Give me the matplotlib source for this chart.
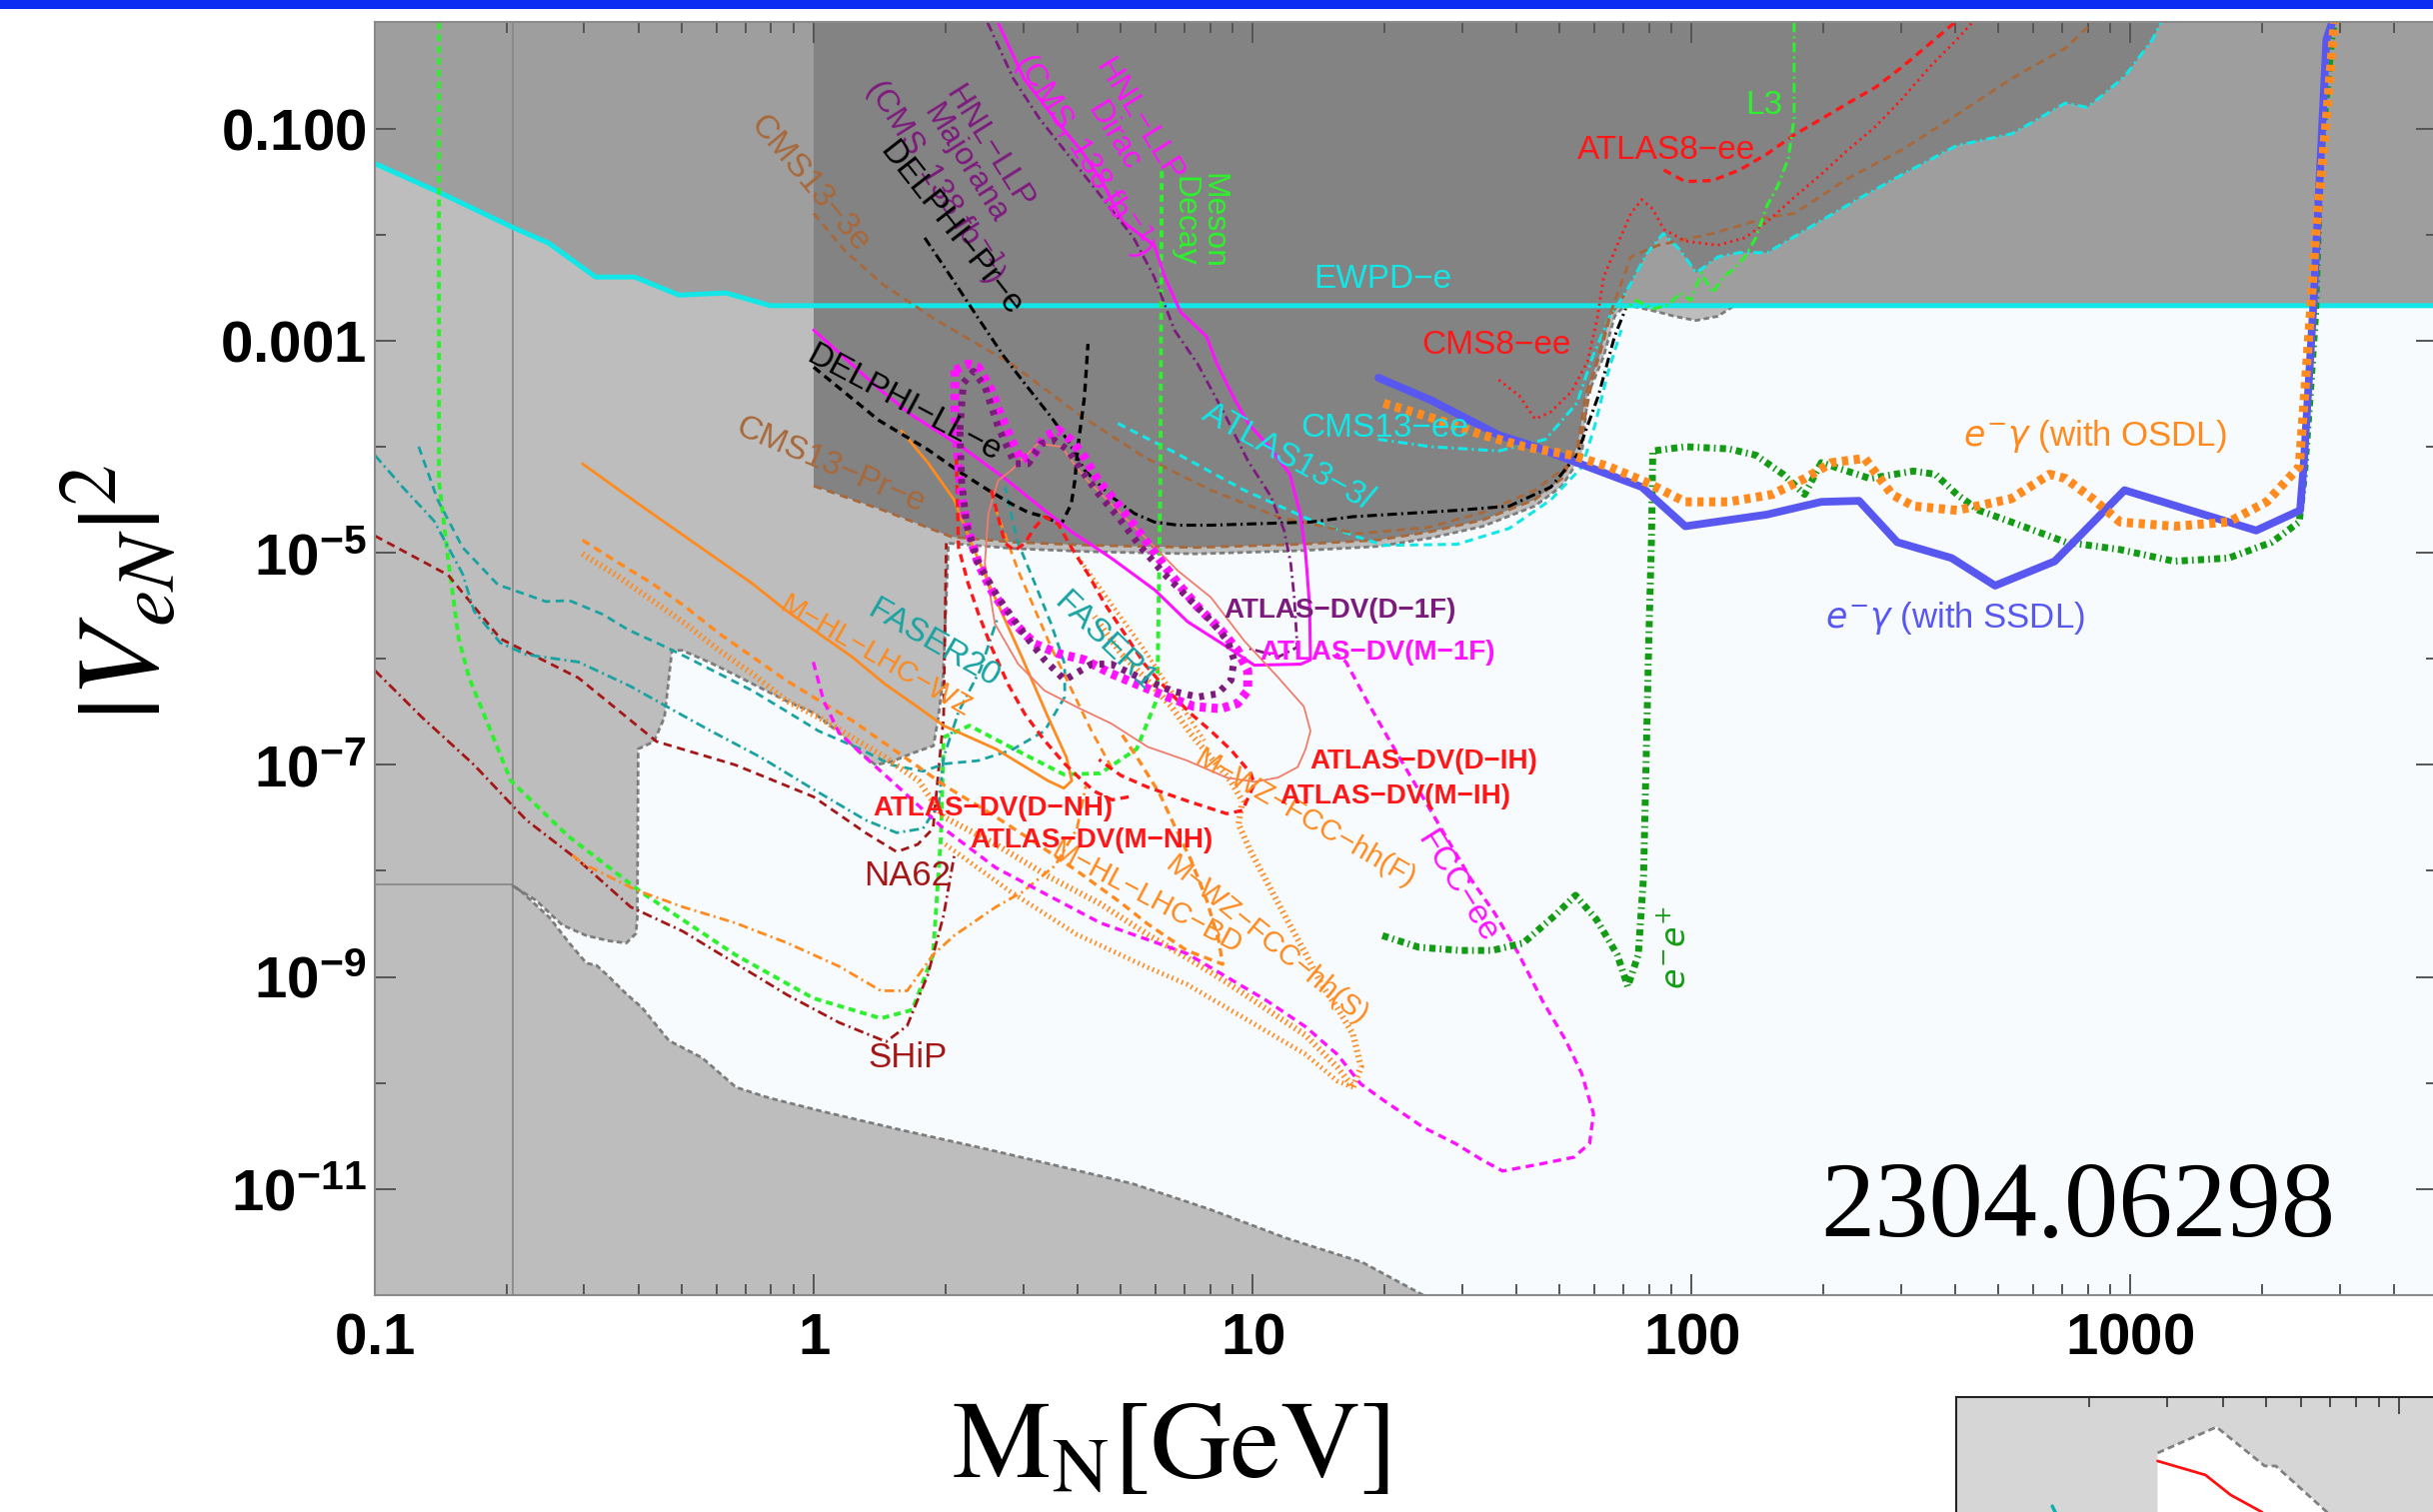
import numpy as np
import matplotlib
matplotlib.use("Agg")
import matplotlib.pyplot as plt
from matplotlib.patches import Rectangle, Polygon
from matplotlib.ticker import FixedLocator, NullLocator, NullFormatter

plt.rcParams["font.family"] = ["Liberation Sans", "DejaVu Sans"]
plt.rcParams["mathtext.fontset"] = "custom"
plt.rcParams["mathtext.rm"] = "Liberation Sans:bold"
plt.rcParams["mathtext.it"] = "Liberation Sans:italic:bold"
plt.rcParams["mathtext.bf"] = "Liberation Sans:bold"
plt.rcParams["lines.scale_dashes"] = False

# all curves: (log10 M_N [GeV], log10 |V_eN|^2)
EWPD_E = [(-1.0, -1.33), (-0.854, -1.60), (-0.687, -1.93), (-0.604, -2.08), (-0.497, -2.40),
          (-0.408, -2.40), (-0.307, -2.57), (-0.20, -2.55), (-0.099, -2.67), (3.70, -2.67)]

LIGHT_REGION = [(-1.0, 0.0), (-1.0, -12.0), (1.389, -12.0),
                (1.25, -11.69), (1.075, -11.46), (0.902, -11.19), (0.727, -10.95), (0.555, -10.78),
                (0.380, -10.61), (0.207, -10.45), (0.032, -10.28), (-0.102, -10.14), (-0.177, -10.04),
                (-0.255, -9.76), (-0.33, -9.60), (-0.391, -9.29), (-0.427, -9.16), (-0.466, -9.0),
                (-0.495, -8.89), (-0.518, -8.87), (-0.557, -8.68), (-0.602, -8.44), (-0.67, -8.18),
                (-0.686, -8.14), (-0.632, -8.28), (-0.573, -8.51), (-0.518, -8.61), (-0.466, -8.66),
                (-0.427, -8.68), (-0.405, -8.59), (-0.402, -8.44), (-0.40, -6.85), (-0.364, -6.78),
                (-0.34, -6.55), (-0.323, -5.92), (-0.30, -5.92), (-0.239, -6.03), (-0.18, -6.15),
                (-0.109, -6.30), (-0.061, -6.40), (0.0, -6.51), (0.059, -6.70), (0.107, -6.89),
                (0.141, -7.00), (0.177, -6.97), (0.225, -6.89), (0.273, -6.82), (0.284, -6.55),
                (0.295, -6.18), (0.302, -5.44), (0.307, -4.91), (0.455, -4.96), (0.634, -4.99),
                (0.870, -5.01), (1.109, -4.98), (1.286, -4.94), (1.407, -4.86), (1.525, -4.75),
                (1.643, -4.56), (1.705, -4.37), (1.75, -4.08), (1.764, -3.51), (1.80, -3.15),
                (1.825, -2.77), (1.85, -2.66), (1.925, -2.73), (1.961, -2.77), (2.01, -2.81),
                (2.06, -2.77), (2.098, -2.67), (2.10, 0.0)]

DARK_REGION = [(0.0, 0.0), (0.0, -4.37), (0.159, -4.6), (0.314, -4.85), (0.455, -4.90), (0.634, -4.93),
               (0.870, -4.95), (1.109, -4.92), (1.286, -4.88), (1.407, -4.80), (1.525, -4.69),
               (1.643, -4.50), (1.705, -4.30), (1.74, -4.0), (1.76, -3.5), (1.79, -3.15), (1.815, -2.77),
               (1.85, -2.55), (1.90, -2.17), (1.936, -1.99), (1.973, -2.14), (2.011, -2.36), (2.061, -2.21),
               (2.109, -2.17), (2.173, -2.17), (2.234, -2.02), (2.295, -1.87), (2.382, -1.66),
               (2.482, -1.43), (2.605, -1.16), (2.73, -1.05), (2.79, -0.91), (2.852, -0.76),
               (2.902, -0.80), (2.939, -0.68), (2.989, -0.50), (3.05, -0.165), (3.07, 0.0)]

BLOCK_EDGE_M = -0.686
BLOCK_EDGE_V = -8.13

MESON_DECAY = [(-0.854, 0.0), (-0.854, -4.32), (-0.833, -5.06), (-0.809, -5.81), (-0.785, -6.18),
               (-0.690, -7.15), (-0.560, -7.67), (-0.393, -8.20), (-0.179, -8.79), (-0.001, -9.20),
               (0.153, -9.39), (0.225, -9.31), (0.272, -8.79), (0.29, -7.67), (0.296, -6.74),
               (0.355, -6.63), (0.475, -6.89), (0.570, -7.09), (0.653, -7.08), (0.736, -6.85),
               (0.783, -6.37), (0.79, -4.32), (0.793, -1.39)]

NA62 = [(-1.0, -4.84), (-0.833, -5.21), (-0.714, -5.81), (-0.536, -6.18), (-0.358, -6.78), (-0.179, -7.0),
        (-0.001, -7.30), (0.118, -7.64), (0.189, -7.82), (0.237, -7.75), (0.272, -7.60), (0.296, -6.55),
        (0.302, -4.91)]

SHIP = [(-1.0, -6.11), (-0.893, -6.55), (-0.774, -7.0), (-0.655, -7.52), (-0.536, -7.90), (-0.417, -8.34),
        (-0.298, -8.57), (-0.179, -8.87), (-0.060, -9.17), (0.058, -9.43), (0.165, -9.61), (0.213, -9.46),
        (0.26, -8.98), (0.296, -8.42), (0.320, -7.86)]

FASER_DASH = [(-0.90, -4.0), (-0.857, -4.5), (-0.80, -4.95), (-0.72, -5.3), (-0.61, -5.46), (-0.557, -5.45),
              (-0.481, -5.58), (-0.421, -5.73), (-0.352, -5.86), (-0.292, -5.98), (-0.216, -6.14),
              (-0.140, -6.30), (-0.064, -6.49), (0.011, -6.68), (0.106, -6.85), (0.177, -7.0),
              (0.249, -7.06), (0.299, -6.99), (0.375, -6.96), (0.451, -6.86), (0.526, -6.68),
              (0.572, -6.36), (0.572, -6.05), (0.541, -5.67), (0.504, -5.29), (0.466, -4.91),
              (0.451, -4.66), (0.436, -4.38)]

FASER_DASHDOT = [(-1.0, -4.08), (-0.937, -4.38), (-0.865, -4.7), (-0.80, -5.2), (-0.774, -5.55),
                 (-0.714, -5.85), (-0.655, -5.96), (-0.536, -6.03), (-0.417, -6.26), (-0.322, -6.48),
                 (-0.239, -6.67), (-0.120, -6.93), (-0.001, -7.23), (0.118, -7.52), (0.189, -7.64),
                 (0.249, -7.60), (0.285, -7.37), (0.296, -6.93), (0.33, -6.5), (0.38, -6.1), (0.42, -5.6)]

HL_LHC_WZ = [(-0.527, -4.16), (-0.443, -4.41), (-0.368, -4.63), (-0.292, -4.85), (-0.216, -5.07),
             (-0.140, -5.29), (-0.064, -5.54), (0.011, -5.76), (0.087, -5.98), (0.163, -6.24),
             (0.239, -6.46), (0.296, -6.63), (0.415, -6.85), (0.534, -7.15), (0.570, -7.22),
             (0.588, -7.15), (0.576, -6.93), (0.534, -6.55), (0.475, -5.99), (0.415, -5.44),
             (0.356, -4.88), (0.32, -4.50), (0.26, -4.15), (0.20, -3.85)]

HL_LHC_BD = [(-0.527, -4.88), (-0.443, -5.10), (-0.368, -5.29), (-0.292, -5.51), (-0.216, -5.76),
             (-0.140, -5.98), (-0.064, -6.20), (0.011, -6.39), (0.087, -6.58), (0.163, -6.80),
             (0.239, -7.02), (0.30, -7.2), (0.40, -7.45), (0.50, -7.72), (0.60, -8.0), (0.70, -8.3),
             (0.761, -8.5), (0.85, -8.75), (0.932, -8.88), (0.923, -8.66), (0.896, -8.28), (0.86, -7.90),
             (0.824, -7.59), (0.788, -7.27), (0.74, -6.95), (0.70, -6.7)]

FCC_HH_UPPER = [(-0.527, -5.01), (-0.443, -5.23), (-0.368, -5.45), (-0.292, -5.67), (-0.216, -5.92),
                (-0.140, -6.14), (-0.064, -6.39), (0.011, -6.55), (0.087, -6.74), (0.163, -6.93),
                (0.239, -7.15), (0.296, -7.49), (0.415, -7.75), (0.534, -8.05), (0.653, -8.31),
                (0.761, -8.6), (0.851, -8.82), (0.941, -9.05), (1.031, -9.3), (1.121, -9.55),
                (1.193, -9.85), (1.229, -10.04), (1.247, -9.85), (1.229, -9.54), (1.193, -9.29),
                (1.157, -9.07), (1.121, -8.78), (1.076, -8.44), (1.031, -8.09), (0.995, -7.81),
                (0.968, -7.56), (0.977, -7.34), (0.95, -7.15), (0.905, -6.93), (0.86, -6.71),
                (0.815, -6.45), (0.76, -6.2), (0.70, -5.95), (0.64, -5.6)]

FCC_HH_LOWER = [(0.30, -7.75), (0.45, -8.2), (0.6, -8.6), (0.761, -8.91), (0.851, -9.07), (0.941, -9.29),
                (1.031, -9.51), (1.121, -9.73), (1.193, -9.98), (1.229, -10.04)]

HL_LHC_DASHDOT = [(-0.55, -7.85), (-0.526, -7.93), (-0.405, -8.18), (-0.298, -8.34), (-0.179, -8.49),
                  (-0.060, -8.68), (0.058, -8.90), (0.153, -9.13), (0.213, -9.13), (0.272, -8.79),
                  (0.32, -8.61), (0.415, -8.34), (0.475, -8.20), (0.55, -7.95), (0.60, -7.6), (0.62, -7.2)]

ORANGE_INNER_DASH = [(0.413, -4.57), (0.466, -5.17), (0.541, -5.89), (0.633, -6.68), (0.678, -7.02)]
ORANGE_INNER_DOT = [(0.602, -5.04), (0.754, -5.92), (0.890, -6.77)]

FCC_EE = [(-0.001, -6.03), (0.023, -6.40), (0.058, -6.70), (0.118, -6.93), (0.177, -7.15), (0.296, -7.60),
          (0.415, -7.97), (0.534, -8.23), (0.653, -8.49), (0.851, -8.78), (0.941, -9.0), (1.031, -9.22),
          (1.121, -9.47), (1.193, -9.73), (1.247, -10.01), (1.301, -10.17), (1.390, -10.42),
          (1.462, -10.57), (1.525, -10.73), (1.570, -10.83), (1.660, -10.76), (1.732, -10.70),
          (1.768, -10.57), (1.777, -10.29), (1.75, -9.91), (1.714, -9.60), (1.660, -9.22),
          (1.606, -8.78), (1.552, -8.40), (1.498, -8.08), (1.451, -7.75), (1.403, -7.41),
          (1.356, -7.08), (1.308, -6.74), (1.261, -6.40), (1.213, -6.03), (1.19, -5.95)]

EE_COLLIDER = [(1.296, -8.61), (1.379, -8.72), (1.475, -8.75), (1.546, -8.75), (1.617, -8.68), (1.689, -8.42),
               (1.736, -8.23), (1.784, -8.46), (1.831, -8.79), (1.855, -9.09), (1.879, -8.79),
               (1.891, -8.05), (1.897, -6.93), (1.903, -5.81), (1.909, -4.88), (1.912, -4.04),
               (1.986, -4.0), (2.085, -4.02), (2.147, -4.08), (2.209, -4.26), (2.258, -4.45),
               (2.296, -4.15), (2.333, -4.2), (2.407, -4.30), (2.506, -4.23), (2.556, -4.26),
               (2.605, -4.45), (2.655, -4.60), (2.729, -4.71), (2.853, -4.90), (2.977, -4.97),
               (3.10, -5.08), (3.224, -5.05), (3.323, -4.90), (3.385, -4.71), (3.397, -4.26),
               (3.41, -3.52), (3.422, -2.77), (3.434, -1.28), (3.459, -0.16), (3.465, 0.0)]

EGAMMA_OSDL = [(1.299, -3.59), (1.418, -3.74), (1.525, -3.89), (1.62, -4.0), (1.727, -4.08), (1.813, -4.19),
               (1.90, -4.34), (1.986, -4.52), (2.085, -4.52), (2.184, -4.45), (2.258, -4.30), (2.32, -4.15),
               (2.395, -4.11), (2.457, -4.45), (2.506, -4.56), (2.605, -4.60), (2.729, -4.49),
               (2.816, -4.26), (2.853, -4.30), (2.914, -4.49), (2.977, -4.71), (3.10, -4.75),
               (3.224, -4.71), (3.311, -4.52), (3.385, -4.19), (3.397, -3.52), (3.41, -2.77),
               (3.422, -2.03), (3.447, -0.91), (3.465, 0.0)]

EGAMMA_SSDL = [(1.287, -3.35), (1.406, -3.56), (1.561, -3.89), (1.644, -4.0), (1.739, -4.15), (1.887, -4.38),
               (1.986, -4.75), (2.172, -4.64), (2.296, -4.52), (2.382, -4.51), (2.469, -4.90),
               (2.593, -5.05), (2.692, -5.31), (2.828, -5.08), (2.987, -4.41), (3.287, -4.79),
               (3.387, -4.60), (3.395, -4.19), (3.418, -2.62), (3.447, -0.16), (3.46, 0.0)]

HNL_DIRAC = [(0.420, 0.0), (0.479, -0.53), (0.550, -0.91), (0.610, -1.21), (0.657, -1.50), (0.705, -1.88),
             (0.753, -2.03), (0.776, -2.10), (0.80, -2.40), (0.836, -2.73), (0.895, -2.96), (0.919, -3.22),
             (0.955, -3.52), (0.99, -3.78), (1.038, -4.00), (1.085, -4.26), (1.109, -4.64), (1.121, -5.01),
             (1.13, -5.5), (1.132, -6.01), (1.110, -6.05), (1.004, -6.06), (0.943, -5.89), (0.852, -5.65),
             (0.777, -5.35), (0.678, -5.05), (0.587, -4.8), (0.511, -4.55), (0.436, -4.3), (0.337, -4.0),
             (0.223, -3.7), (0.148, -3.45), (0.0, -2.9)]

HNL_MAJORANA = [(0.396, 0.0), (0.455, -0.53), (0.515, -0.91), (0.586, -1.28), (0.657, -1.65), (0.729, -2.03),
                (0.776, -2.40), (0.822, -2.90), (0.875, -3.22), (0.936, -3.69), (0.989, -4.13),
                (1.042, -4.47), (1.072, -4.79), (1.087, -5.10), (1.095, -5.42), (1.102, -5.89),
                (1.06, -5.98), (0.99, -5.9)]

DELPHI_PR = [(0.253, -2.03), (0.313, -2.40), (0.372, -2.77), (0.432, -3.14), (0.48, -3.40), (0.541, -3.72),
             (0.579, -3.94), (0.617, -4.22), (0.678, -4.47), (0.731, -4.63), (0.776, -4.71), (0.83, -4.74),
             (0.905, -4.74), (0.981, -4.73), (1.057, -4.72), (1.132, -4.71), (1.228, -4.66),
             (1.466, -4.60), (1.585, -4.56), (1.68, -4.38), (1.739, -4.08), (1.788, -3.52),
             (1.825, -2.96), (1.85, -2.70)]

DELPHI_LL = [(0.0, -3.25), (0.148, -3.75), (0.261, -4.03), (0.337, -4.25), (0.398, -4.41), (0.451, -4.54),
             (0.489, -4.62), (0.526, -4.66), (0.564, -4.73), (0.587, -4.54), (0.595, -4.32), (0.602, -4.0),
             (0.617, -3.53), (0.625, -3.03)]

CMS13_3E = [(0.0, -1.80), (0.075, -2.17), (0.158, -2.47), (0.277, -2.80), (0.451, -3.22), (0.602, -3.69),
            (0.754, -4.10), (0.905, -4.41), (1.057, -4.66), (1.239, -4.82), (1.40, -4.76), (1.525, -4.62),
            (1.644, -4.41), (1.739, -4.11), (1.776, -3.33), (1.813, -2.77), (1.862, -2.21), (1.924, -2.10),
            (2.048, -1.99), (2.172, -1.84), (2.234, -1.80), (2.357, -1.47), (2.48, -1.20), (2.605, -0.87),
            (2.729, -0.53), (2.853, -0.24), (2.914, 0.0)]

ATLAS13_3L = [(0.693, -3.78), (0.830, -4.07), (0.981, -4.41), (1.132, -4.69), (1.239, -4.85), (1.30, -4.93),
              (1.466, -4.92), (1.585, -4.77), (1.68, -4.50), (1.751, -4.19), (1.78, -3.8), (1.81, -3.3),
              (1.84, -2.9)]

CMS13_EE = [(1.286, -3.93), (1.407, -4.00), (1.561, -4.04), (1.668, -3.93), (1.739, -3.59), (1.775, -3.15),
            (1.814, -2.77), (1.85, -2.55), (1.90, -2.17), (1.936, -1.99), (1.973, -2.14), (2.011, -2.36),
            (2.061, -2.21), (2.109, -2.17), (2.173, -2.17), (2.234, -2.02), (2.295, -1.87), (2.382, -1.66),
            (2.482, -1.43), (2.605, -1.16), (2.73, -1.05), (2.79, -0.91), (2.852, -0.76), (2.902, -0.80),
            (2.939, -0.68), (2.989, -0.50), (3.05, -0.165), (3.07, 0.0)]

CMS8_EE = [(1.561, -3.37), (1.608, -3.52), (1.644, -3.74), (1.68, -3.67), (1.727, -3.48), (1.763, -3.2),
           (1.785, -2.8), (1.80, -2.40), (1.838, -2.03), (1.862, -1.80), (1.887, -1.67), (1.912, -1.76),
           (1.937, -1.95), (1.986, -2.06), (2.06, -2.10), (2.122, -2.03), (2.172, -1.88), (2.234, -1.65),
           (2.296, -1.43), (2.357, -1.20), (2.42, -0.98), (2.48, -0.72), (2.543, -0.42), (2.605, -0.16),
           (2.64, 0.0)]

ATLAS8_EE = [(1.937, -1.39), (1.986, -1.50), (2.048, -1.49), (2.11, -1.39), (2.172, -1.24), (2.234, -1.06),
             (2.296, -0.91), (2.357, -0.76), (2.42, -0.61), (2.48, -0.42), (2.543, -0.20), (2.60, 0.0)]

L3 = [(2.234, 0.0), (2.234, -0.907), (2.221, -1.28), (2.197, -1.54), (2.172, -1.73), (2.147, -2.03),
      (2.122, -2.21), (2.098, -2.32), (2.073, -2.40), (2.048, -2.55), (2.023, -2.36), (1.999, -2.62),
      (1.974, -2.55), (1.949, -2.66), (1.912, -2.70), (1.875, -2.62), (1.85, -2.70)]

DV_M_1F = [(0.322, -3.28), (0.352, -3.22), (0.375, -3.25), (0.405, -3.47), (0.428, -3.72), (0.451, -3.94),
           (0.473, -4.13), (0.504, -4.06), (0.526, -3.91), (0.557, -3.84), (0.587, -3.94), (0.617, -4.10),
           (0.648, -4.32), (0.693, -4.54), (0.739, -4.79), (0.784, -5.04), (0.830, -5.29), (0.875, -5.51),
           (0.928, -5.73), (0.966, -5.92), (0.989, -6.11), (0.989, -6.30), (0.966, -6.42), (0.928, -6.47),
           (0.867, -6.45), (0.807, -6.36), (0.754, -6.27), (0.678, -6.14), (0.617, -6.01), (0.557, -5.95),
           (0.504, -5.86), (0.451, -5.64), (0.405, -5.35), (0.375, -5.10), (0.352, -4.79), (0.337, -4.47),
           (0.330, -4.16), (0.322, -3.69), (0.322, -3.28)]

DV_D_1F = [(0.333, -3.84), (0.341, -3.40), (0.364, -3.29), (0.390, -3.43), (0.420, -3.81), (0.458, -4.16),
           (0.489, -4.16), (0.519, -3.97), (0.549, -3.94), (0.579, -4.03), (0.610, -4.22), (0.648, -4.44),
           (0.693, -4.66), (0.746, -4.95), (0.799, -5.20), (0.852, -5.42), (0.905, -5.64), (0.943, -5.83),
           (0.958, -6.01), (0.951, -6.20), (0.920, -6.33), (0.875, -6.36), (0.814, -6.30), (0.739, -6.17),
           (0.678, -6.05), (0.633, -6.05), (0.572, -6.20), (0.526, -6.01), (0.473, -5.73), (0.420, -5.42),
           (0.375, -5.10), (0.348, -4.73), (0.337, -4.32), (0.333, -3.84)]

DV_D_IH = [(0.451, -4.22), (0.511, -3.97), (0.564, -4.00), (0.617, -4.29), (0.678, -4.54), (0.754, -4.85),
           (0.830, -5.17), (0.905, -5.42), (0.981, -5.83), (1.057, -6.17), (1.117, -6.45), (1.132, -6.68),
           (1.121, -6.85), (1.103, -7.02), (1.058, -7.12), (1.004, -7.16), (0.941, -7.12), (0.851, -6.96),
           (0.761, -6.83), (0.678, -6.61), (0.602, -6.46), (0.526, -6.30), (0.466, -6.05), (0.413, -5.67),
           (0.390, -5.10), (0.398, -4.63), (0.420, -4.32), (0.451, -4.22)]

DV_NH = [(0.325, -4.1), (0.328, -4.6), (0.330, -4.95), (0.352, -5.29), (0.375, -5.57), (0.405, -5.89),
         (0.443, -6.24), (0.481, -6.52), (0.526, -6.77), (0.572, -6.99), (0.602, -7.11), (0.64, -7.25),
         (0.68, -7.33), (0.72, -7.30)]

DV_M_IH = [(0.405, -4.41), (0.420, -4.66), (0.436, -4.91), (0.458, -4.98), (0.481, -4.91), (0.504, -4.76),
           (0.526, -4.66), (0.557, -4.73), (0.587, -4.95), (0.625, -5.20), (0.663, -5.48), (0.708, -5.76),
           (0.754, -6.05), (0.807, -6.30), (0.860, -6.52), (0.905, -6.68), (0.951, -6.86), (0.996, -7.08),
           (1.004, -7.18), (0.977, -7.43), (0.941, -7.46), (0.851, -7.34), (0.761, -7.21), (0.70, -7.1),
           (0.65, -6.95)]

# lower-right inset (log10 units of its own axes)
INSET_WHITE = [(-0.545, -2.03), (-0.545, -0.528), (-0.412, -0.283), (-0.303, -0.651), (-0.278, -0.651),
               (-0.163, -1.085), (-0.05, -2.03)]
INSET_RED = [(-0.545, -0.604), (-0.468, -0.698), (-0.437, -0.736), (-0.38, -0.925), (-0.31, -1.085),
             (-0.226, -1.53)]
INSET_CYAN = [(-0.783, -1.03), (-0.769, -1.15)]

X_TICKS = [0.1, 1, 10, 100, 1000]
X_TICK_LABELS = ["0.1", "1", "10", "100", "1000"]
Y_TICKS = [1e-1, 1e-3, 1e-5, 1e-7, 1e-9, 1e-11]
Y_TICK_LABELS = ["0.100", "0.001", "10^{-5}", "10^{-7}", "10^{-9}", "10^{-11}"]

CYAN = "#12e6e6"
RED = "#ff1717"
LIME = "#2ef02e"
DARKRED = "#a51616"
TEAL = "#1aa2a2"
ORANGE = "#ff8a1e"
BROWN = "#a8683a"
MAGENTA = "#ff12ff"
PURPLE = "#7d1a7d"
BLUE = "#5858f0"
GREEN = "#139c13"
SALMON = "#f07c6c"
EDGE = "#7c7c7c"

DASH = (6, 4)
DASHDOT = (7, 3, 1.5, 3)
DOT = (1.6, 3)


def lg(pts):
    a = np.asarray(pts, dtype=float)
    return 10.0 ** a[:, 0], 10.0 ** a[:, 1]


def draw(ax, pts, color, lw, dashes=None, z=3):
    x, y = lg(pts)
    line, = ax.plot(x, y, color=color, lw=lw, zorder=z,
                    solid_capstyle="round", solid_joinstyle="round", dash_capstyle="butt")
    if dashes is not None:
        line.set_dashes(dashes)
    return line


def label(ax, s, lx, ly, color, size=24, rot=0, weight="normal", ha="center", **kw):
    ax.text(10 ** lx, 10 ** ly, s, color=color, fontsize=size, rotation=rot, fontweight=weight,
            ha=ha, va="center", rotation_mode="anchor", zorder=6, math_fontfamily="dejavusans", **kw)


W, H = 2434, 1513
fig = plt.figure(figsize=(W / 100, H / 100), dpi=100)
fig.patch.set_facecolor("white")
ax = fig.add_axes([375 / W, 1 - 1296 / H, 2063 / W, 1273.5 / H])
ax.set_xscale("log")
ax.set_yscale("log")
ax.set_xlim(0.1, 5000)
ax.set_ylim(1e-12, 1)
ax.set_facecolor("#f7fbfd")

# excluded regions
ax.add_patch(Polygon(np.column_stack(lg(LIGHT_REGION)), closed=True, fc="#bdbdbd", ec="none", zorder=0.5))
ex, ey = lg(EWPD_E)
ax.fill_between(ex, ey, 1.0, color="#9e9e9e", lw=0, zorder=0.6)
ax.add_patch(Polygon(np.column_stack(lg(DARK_REGION)), closed=True, fc="#838383", ec="none", zorder=0.7))

# region edges
draw(ax, LIGHT_REGION[2:-1], EDGE, 2.0, (4, 2.5), z=0.9)
draw(ax, DARK_REGION[1:18], BROWN, 2.0, DASH, z=0.95)
ax.plot([10 ** BLOCK_EDGE_M] * 2, [1e-12, 1], color="#8a8a8a", lw=1.3, zorder=0.8)
ax.plot([0.1, 10 ** BLOCK_EDGE_M], [10 ** BLOCK_EDGE_V] * 2, color="#8a8a8a", lw=1.3, zorder=0.8)

# curves
draw(ax, EWPD_E, CYAN, 3.6, z=2.5)
draw(ax, CMS13_EE, CYAN, 2.2, DASHDOT)
draw(ax, ATLAS13_3L, CYAN, 2.2, DASH)
draw(ax, CMS13_3E, BROWN, 2.0, DASH)
draw(ax, CMS8_EE, RED, 2.0, DOT)
draw(ax, ATLAS8_EE, RED, 2.4, DASH)
draw(ax, L3, LIME, 2.2, DASHDOT)
draw(ax, MESON_DECAY, LIME, 2.8, (5, 3.5))
draw(ax, NA62, DARKRED, 2.0, DASH)
draw(ax, SHIP, DARKRED, 2.0, DASHDOT)
draw(ax, FASER_DASH, TEAL, 2.0, DASH)
draw(ax, FASER_DASHDOT, TEAL, 2.0, DASHDOT)
draw(ax, HL_LHC_WZ, ORANGE, 2.0)
draw(ax, HL_LHC_BD, ORANGE, 2.4, DASH)
draw(ax, FCC_HH_UPPER, ORANGE, 4.5, (1.2, 2.6))
draw(ax, FCC_HH_LOWER, ORANGE, 3.5, (1.2, 2.6))
draw(ax, HL_LHC_DASHDOT, ORANGE, 2.0, DASHDOT)
draw(ax, ORANGE_INNER_DASH, ORANGE, 2.0, DASH)
draw(ax, ORANGE_INNER_DOT, ORANGE, 3.0, (1.2, 2.6))
draw(ax, FCC_EE, MAGENTA, 2.4, DASH)
draw(ax, DELPHI_PR, "black", 2.2, DASHDOT)
draw(ax, DELPHI_LL, "black", 2.4, DASH)
draw(ax, HNL_DIRAC, MAGENTA, 2.2)
draw(ax, HNL_MAJORANA, PURPLE, 2.0, DASHDOT)
draw(ax, DV_D_IH, SALMON, 1.3)
draw(ax, DV_NH, RED, 2.4, DASH)
draw(ax, DV_M_IH, RED, 2.4, DASH)
draw(ax, DV_M_1F, MAGENTA, 6.5, (4.5, 4), z=3.5)
draw(ax, DV_D_1F, PURPLE, 5.0, (3.5, 5), z=3.6)
draw(ax, EE_COLLIDER, GREEN, 5.0, (4.5, 3, 1.2, 3), z=3.4)
draw(ax, EGAMMA_OSDL, ORANGE, 6.5, (4.5, 4), z=3.7)
draw(ax, EGAMMA_SSDL, BLUE, 5.6, z=3.6)

# curve labels
label(ax, "EWPD\u2212e", 1.297, -2.42, CYAN, 24)
label(ax, "CMS13\u2212ee", 1.30, -3.83, CYAN, 24)
label(ax, "ATLAS13\u22123$\\it{l}$", 1.08, -4.10, CYAN, 24, -29)
label(ax, "CMS8\u2212ee", 1.555, -3.04, RED, 24)
label(ax, "ATLAS8\u2212ee", 1.943, -1.21, RED, 24)
label(ax, "L3", 2.166, -0.78, LIME, 24)
label(ax, "Meson\nDecay", 0.877, -1.87, LIME, 23, -90, linespacing=0.95)
label(ax, "HNL\u2212LLP\nDirac\n(CMS, 138 fb$^{-1}$)", 0.675, -1.10, MAGENTA, 23, -58, linespacing=0.95)
label(ax, "HNL\u2212LLP\nMajorana\n(CMS, 138 fb$^{-1}$)", 0.335, -1.35, PURPLE, 23, -58, linespacing=0.95)
label(ax, "DELPHI\u2212Pr\u2212e", 0.312, -1.95, "black", 24, -52)
label(ax, "DELPHI\u2212LL\u2212e", 0.205, -3.59, "black", 24, -28)
label(ax, "CMS13\u22123e", -0.009, -1.52, BROWN, 24, -50)
label(ax, "CMS13\u2212Pr\u2212e", 0.037, -4.18, BROWN, 24, -23)
label(ax, "FASER20", 0.272, -5.86, TEAL, 24, -30)
label(ax, "FASER1", 0.663, -5.84, TEAL, 24, -44)
label(ax, "M\u2212HL\u2212LHC\u2212WZ", 0.142, -5.98, ORANGE, 21, -30)
label(ax, "M\u2212HL\u2212LHC\u2212BD", 0.76, -8.25, ORANGE, 21, -28)
label(ax, "M\u2212WZ\u2212FCC\u2212hh(F)", 1.121, -7.51, ORANGE, 21, -30)
label(ax, "M\u2212WZ\u2212FCC\u2212hh(S)", 1.031, -8.66, ORANGE, 21, -39)
label(ax, "FCC\u2212ee", 1.467, -8.15, MAGENTA, 24, -58)
label(ax, "$e^{-}e^{+}$", 1.966, -8.72, GREEN, 24, 90)
label(ax, "$e^{-}\\gamma$ (with OSDL)", 2.92, -3.90, ORANGE, 25)
label(ax, "$e^{-}\\gamma$ (with SSDL)", 2.60, -5.62, BLUE, 25)
label(ax, "ATLAS\u2212DV(D\u22121F)", 0.934, -5.55, PURPLE, 20, weight="bold", ha="left")
label(ax, "ATLAS\u2212DV(M\u22121F)", 1.017, -5.94, MAGENTA, 20, weight="bold", ha="left")
label(ax, "ATLAS\u2212DV(D\u2212IH)", 1.13, -6.97, RED, 20, weight="bold", ha="left")
label(ax, "ATLAS\u2212DV(M\u2212IH)", 1.062, -7.30, RED, 20, weight="bold", ha="left")
label(ax, "ATLAS\u2212DV(D\u2212NH)", 0.136, -7.41, RED, 20, weight="bold", ha="left")
label(ax, "ATLAS\u2212DV(M\u2212NH)", 0.356, -7.71, RED, 20, weight="bold", ha="left")
label(ax, "NA62", 0.213, -8.05, DARKRED, 25)
label(ax, "SHiP", 0.213, -9.76, DARKRED, 25)

# axes styling
for sp in ax.spines.values():
    sp.set_color("#8a8a8a")
    sp.set_linewidth(1.5)
    sp.set_zorder(7)
ax.xaxis.set_major_locator(FixedLocator(X_TICKS))
ax.xaxis.set_minor_locator(FixedLocator([m * 10.0 ** k for k in range(-1, 4) for m in range(2, 10)]))
ax.yaxis.set_major_locator(FixedLocator(Y_TICKS))
ax.yaxis.set_minor_locator(FixedLocator([10.0 ** -k for k in range(0, 13, 2)]))
ax.xaxis.set_minor_formatter(NullFormatter())
ax.yaxis.set_minor_formatter(NullFormatter())
ax.set_xticklabels(["$\\mathrm{%s}$" % t for t in X_TICK_LABELS], fontsize=42)
ax.set_yticklabels(["$\\mathrm{%s}$" % t for t in Y_TICK_LABELS], fontsize=42)
ax.tick_params(which="both", direction="in", top=True, right=True, color="#555555", width=1.4, zorder=7)
ax.tick_params(which="major", length=15)
ax.tick_params(which="minor", length=8)
ax.tick_params(axis="x", which="major", pad=12)
ax.tick_params(axis="y", which="major", pad=6)

fig.text(1171 / W, 1 - 1478 / H, r"$\mathrm{M_N[GeV]}$", fontsize=80, ha="center", va="baseline",
         math_fontfamily="stix")
fig.text(124 / W, 1 - 593 / H, r"$|V_{eN}|^2$", fontsize=84, rotation=90, ha="center", va="center",
         math_fontfamily="stix")
fig.text(2336 / W, 1 - 1237 / H, "2304.06298", fontsize=78, family="Liberation Serif",
         ha="right", va="baseline")

# top banner
fig.add_artist(Rectangle((0, 1 - 9 / H), 1, 9 / H, transform=fig.transFigure, color="#0c2ef2", lw=0))

# partial second panel in the lower-right corner
ins = fig.add_axes([1957 / W, -100 / H, 543 / W, 215 / H])
ins.set_xscale("log")
ins.set_yscale("log")
ins.set_xlim(10 ** -1.0, 10 ** 0.226)
ins.set_ylim(10 ** -2.03, 1)
ins.set_facecolor("#d6d6d6")
ins.add_patch(Polygon(np.column_stack(lg(INSET_WHITE)), closed=True, fc="white", ec="none", zorder=1))
draw(ins, INSET_WHITE[1:], "#808080", 2.0, (5, 3), z=2)
draw(ins, INSET_RED, "#ff1010", 2.0, z=3)
draw(ins, INSET_CYAN, "#10b0b0", 2.5, z=3)
ins.xaxis.set_major_locator(FixedLocator([1.0]))
ins.xaxis.set_minor_locator(FixedLocator([m / 10.0 for m in range(2, 10)]))
ins.yaxis.set_major_locator(NullLocator())
ins.yaxis.set_minor_locator(NullLocator())
ins.xaxis.set_major_formatter(NullFormatter())
ins.xaxis.set_minor_formatter(NullFormatter())
ins.tick_params(which="both", direction="in", top=True, bottom=False, color="#333333", width=1.2)
ins.tick_params(which="major", length=12)
ins.tick_params(which="minor", length=7)
for name, sp in ins.spines.items():
    sp.set_color("#222222")
    sp.set_linewidth(1.5)

fig.savefig("out.png", dpi=100)
